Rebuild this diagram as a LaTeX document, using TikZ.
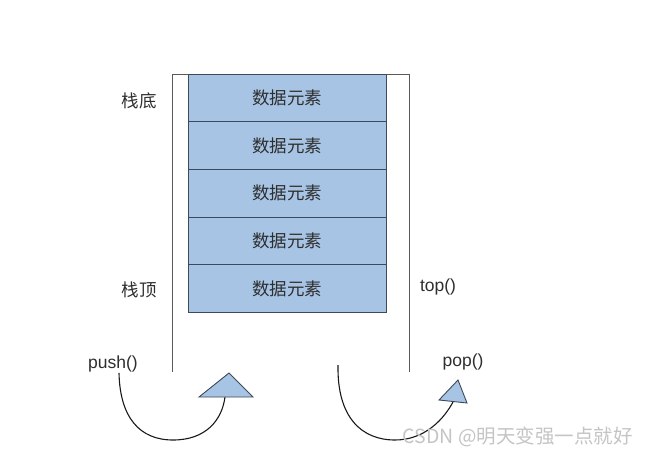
\documentclass[tikz,border=0pt]{standalone}
\usepackage{fontspec}
\setmainfont{Liberation Sans}
\newfontfamily\cjk{Noto Sans CJK SC}
\definecolor{cellblue}{HTML}{A7C4E5}
\definecolor{cellborder}{HTML}{3E4A58}
\definecolor{wall}{HTML}{5A5A5A}
\definecolor{txt}{HTML}{2E2E2E}
\definecolor{wm}{HTML}{C4C4C4}
\begin{document}
\begin{tikzpicture}[x=1pt,y=-1pt,
  cell/.style={draw=cellborder, fill=cellblue, line width=0.9pt, minimum width=198pt, minimum height=47.6pt, inner sep=0pt, font=\cjk\fontsize{17.5}{19}\selectfont, text=txt},
  sidelabel/.style={font=\cjk\fontsize{17.5}{19}\selectfont, text=txt},
  oplabel/.style={font=\fontsize{17.5}{19}\selectfont, text=txt, inner sep=0pt},
  wallline/.style={draw=wall, line width=0.9pt},
  arc/.style={draw=black!90, line width=1.1pt},
  tri/.style={draw=cellborder, fill=cellblue, line width=0.9pt, line join=miter}]
\useasboundingbox (0,0) rectangle (648,458);
% container
\coordinate (wl) at (172,372);
\coordinate (wtl) at (172,74);
\coordinate (wtr) at (409,74);
\coordinate (wr) at (409,372);
\draw[wallline] (wl) -- (wtl) -- (wtr) -- (wr);
% cells
\node[cell] (c1) at (287,98) {数据元素};
\node[cell] (c2) at (287,145.6) {数据元素};
\node[cell] (c3) at (287,193.2) {数据元素};
\node[cell] (c4) at (287,240.8) {数据元素};
\node[cell] (c5) at (287,288.4) {数据元素};
% labels
\node[sidelabel] (bottom) at (139,101) {栈底};
\node[sidelabel] (topl) at (139,290) {栈顶};
\node[oplabel] (topf) at (438,287) {top()};
\node[oplabel] (push) at (113,364) {push()};
\node[oplabel] (pop) at (463,362) {pop()};
% push arrow
\coordinate (ps) at (119,373);
\coordinate (pb) at (173,440);
\coordinate (pe) at (225,397);
\draw[arc] (ps) .. controls (120,418) and (140,440) .. (pb) .. controls (206,440) and (222,420) .. (pe);
\coordinate (t1a) at (199,397);
\coordinate (t1b) at (253,397);
\coordinate (t1c) at (229,373);
\draw[tri] (t1a) -- (t1b) -- (t1c) -- cycle;
% pop arrow
\coordinate (qs) at (338,365);
\coordinate (qb) at (395,440);
\coordinate (qe) at (454,400);
\draw[arc] (qs) .. controls (337,418) and (362,440) .. (qb) .. controls (424,440) and (444,420) .. (qe);
\coordinate (t2a) at (439,400);
\coordinate (t2b) at (467,403);
\coordinate (t2c) at (458,380);
\draw[tri] (t2a) -- (t2b) -- (t2c) -- cycle;
% watermark
\node[anchor=east, text=wm, font=\cjk\fontsize{19.5}{21}\selectfont, inner sep=0pt] (wmk) at (633,437) {CSDN @明天变强一点就好};
\end{tikzpicture}
\end{document}
